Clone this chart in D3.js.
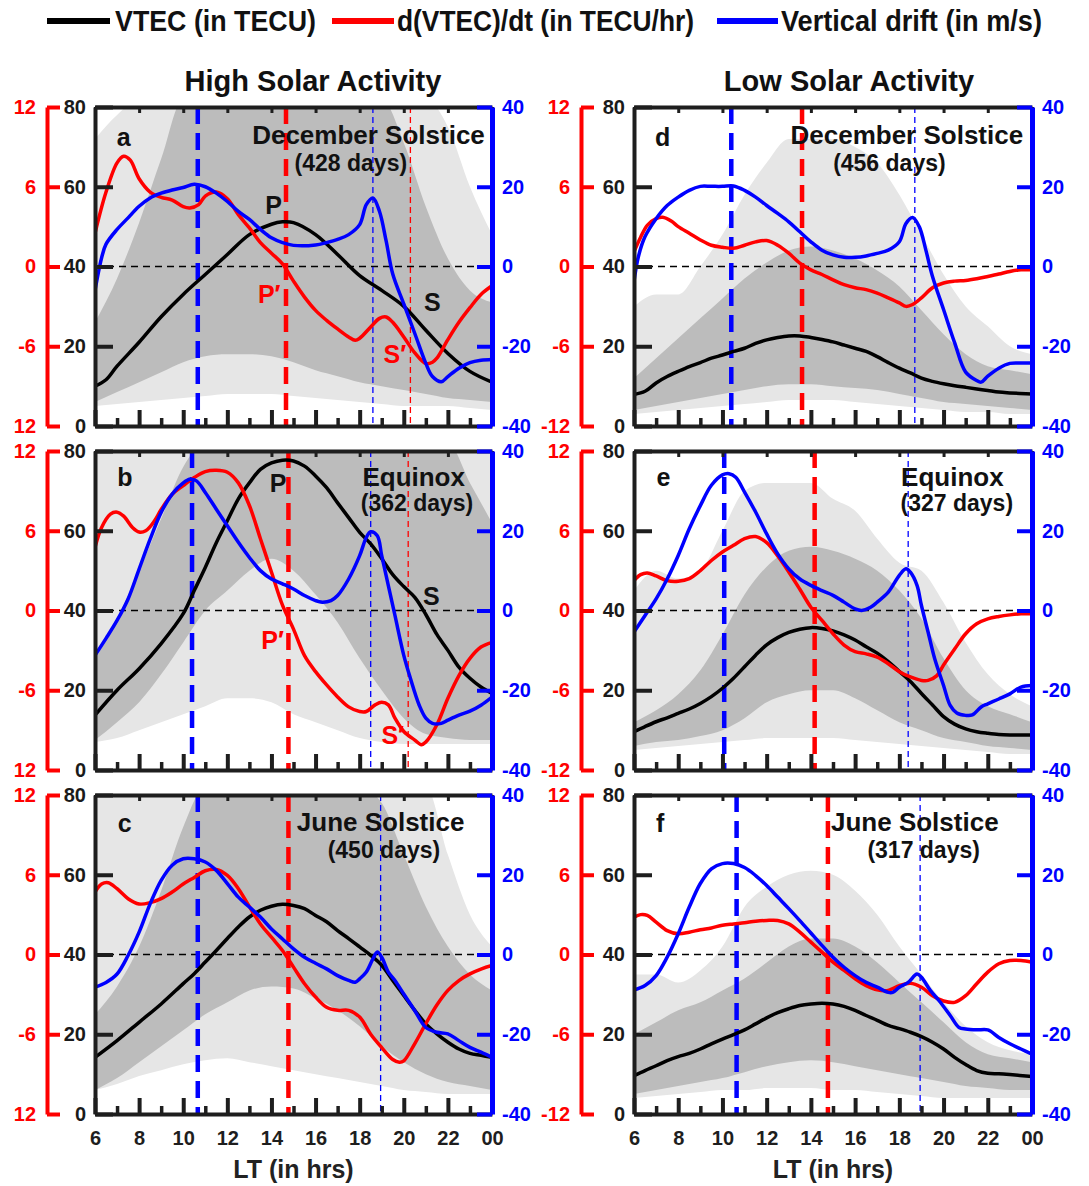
<!DOCTYPE html>
<html>
<head>
<meta charset="utf-8">
<script src="https://cdn.jsdelivr.net/npm/d3@7/dist/d3.min.js"></script>
<style>
html,body{margin:0;padding:0;background:#fff;}
</style>
</head>
<body>
<svg id="chart" width="1089" height="1186"></svg>
<script>
// ================= DATA =================
const hourTicks = [6, 8, 10, 12, 14, 16, 18, 20, 22, 24];
const hourTickLabels = ["6", "8", "10", "12", "14", "16", "18", "20", "22", "00"];
const minorHourTicks = [7, 9, 11, 13, 15, 17, 19, 21, 23];
const vtecTicks = [0, 20, 40, 60, 80];
const rateTicks = [-12, -6, 0, 6, 12];
const rateTickLabels = ["-12", "-6", "0", "6", "12"];
const driftTicks = [-40, -20, 0, 20, 40];
const driftTickLabels = ["-40", "-20", "0", "20", "40"];
const seriesNames = ["VTEC (in TECU)", "d(VTEC)/dt (in TECU/hr)", "Vertical drift (in m/s)"];
const columnTitles = ["High Solar Activity", "Low Solar Activity"];
const panelLetters = ["a", "b", "c", "d", "e", "f"];
const seasons = ["December Solstice", "Equinox", "June Solstice", "December Solstice", "Equinox", "June Solstice"];
const dayCounts = [428, 362, 450, 456, 327, 317];

// reference local times of the dashed markers
const driftPeakLT = [10.66, 10.4, 10.66, 10.4, 10.08, 10.64];
const vtecPeakLT = [14.66, 14.77, 14.77, 13.6, 14.17, 14.77];
const preReversalLT = [18.6, 18.5, 18.95, 18.7, 18.4, 18.94];
const secondaryLT = [20.3, 20.2, null, null, null, null];

// envelopes of the daily VTEC curves (grey), hourly from 6 to 24 LT
const grayHours = [6, 7, 8, 9, 10, 11, 12, 13, 14, 15, 16, 17, 18, 19, 20, 21, 22, 23, 24];
const sparseTopA = [72, 78, 82, 82, 82, 82, 82, 82, 82, 82, 82, 82, 82, 82, 82, 82, 75, 60, 48];
const denseTopA = [26, 37, 51, 67, 82, 82, 82, 82, 82, 82, 82, 82, 82, 82, 71, 55, 42, 34, 31];
const denseBotA = [6, 8.5, 11, 13.5, 16, 17.5, 18, 18, 17.5, 16, 14, 12.5, 11, 10, 9, 8, 7, 6.5, 6];
const sparseBotA = [5, 5.5, 6, 6.5, 7, 7.5, 8, 8, 8, 7.5, 7, 6.5, 6, 5.5, 5, 5, 5, 4.5, 4];

const sparseTopB = [82, 82, 82, 82, 82, 82, 82, 82, 82, 82, 82, 82, 82, 82, 82, 82, 82, 82, 82];
const denseTopB = [28, 38, 50, 63, 76, 82, 82, 82, 82, 82, 82, 82, 82, 82, 82, 82, 82, 72, 62];
const denseBotB = [7.5, 12, 17, 24, 32, 40, 45, 50, 53, 50, 44, 37, 28, 20, 13, 9, 8, 7.5, 7.5];
const sparseBotB = [7, 8, 10, 12, 14, 16, 18, 18, 17, 14, 12, 10, 8, 7, 6.5, 6.5, 6.5, 6.5, 6.5];

const sparseTopC = [82, 82, 82, 82, 82, 82, 82, 82, 82, 82, 82, 82, 82, 82, 82, 82, 65, 50, 42];
const denseTopC = [25, 32, 42, 56, 72, 82, 82, 82, 82, 82, 82, 82, 82, 78, 65, 52, 42, 35, 31];
const denseBotC = [6, 9, 13, 17, 21, 25, 28, 31, 32, 31.5, 29, 26, 22, 17, 13, 10, 8, 7, 6];
const sparseBotC = [6, 7.5, 9.5, 11, 12.5, 13.5, 14, 13, 12, 11, 10, 9, 8, 7, 6, 5.5, 5, 5, 5];

const sparseTopD = [30, 33, 33, 40, 48, 58, 66, 72, 72, 72, 70, 66, 58, 48, 38, 30, 25, 20, 18];
const denseTopD = [12, 17, 22, 27, 32, 37, 41, 44, 45, 44, 42, 39, 35, 29, 23, 18, 15, 14, 13];
const denseBotD = [4, 5, 6, 7, 8, 9, 10, 10.5, 10.5, 10, 9.5, 9, 8, 7, 6, 5.5, 5, 4.5, 4];
const sparseBotD = [3, 3.5, 4, 4.5, 5, 5.5, 6, 6.5, 6.5, 6.5, 6, 5.5, 5, 4.5, 4, 3.5, 3.5, 3, 3];

const sparseTopE = [45, 50, 48, 50, 60, 70, 72, 72, 72, 68, 65, 58, 52, 50, 42, 32, 24, 19, 16];
const denseTopE = [12, 15, 19, 25, 34, 44, 51, 55, 56, 55, 53, 50, 45, 38, 28, 20, 16, 14, 12];
const denseBotE = [6, 7, 7.5, 8.5, 10, 13, 17, 19, 20, 20, 18, 15, 12, 10, 8, 7, 6, 5.5, 5];
const sparseBotE = [5, 5.5, 6, 6.5, 7, 7.5, 8, 8, 8, 8, 7.5, 7, 6.5, 6, 5.5, 5, 4.5, 4, 4];

const sparseTopF = [35, 35, 33, 36, 42, 52, 57, 60, 61, 60, 56, 50, 42, 35, 28, 22, 18, 16, 15];
const denseTopF = [20, 23, 26, 28, 31, 34, 38, 42, 44, 44, 42, 38, 33, 28, 23, 18, 15, 14, 13];
const denseBotF = [5, 6, 7, 8, 9, 10.5, 12, 13, 13.5, 13, 12, 11, 10, 9, 8, 7, 6.5, 6, 6];
const sparseBotF = [4, 4.5, 5, 5.5, 6, 6, 6.5, 6.5, 6.5, 6, 6, 5.5, 5, 4.5, 4, 4, 4, 4, 4];

// mean VTEC (TECU), [LT, value]
const vtecA = [[6,10],[6.5,11.6],[7,15],[8,21],[9,27.4],[10,33],[11,38],[12,43],[13,48],[14,50.6],[14.5,51.2],[15,51],[16,48],[17,43],[18,37.7],[19,34],[20,30],[21,24],[22,18.2],[23,13.7],[24,11]];
const vtecB = [[6,13.75],[7,20],[8,25.4],[9,31.7],[10,39.2],[10.5,45],[11,50.8],[11.5,57],[12,62.5],[12.5,68],[13,72],[13.5,75.4],[14,77],[14.5,77.7],[15,77.5],[15.5,76.2],[16,73.75],[16.5,70.8],[17,67],[17.5,63.3],[18,59.6],[18.5,56.7],[19,53],[19.5,49],[20,46],[20.5,43.3],[21,39],[21.5,34],[22,30],[22.5,25.8],[23,23],[23.5,20.8],[24,19.2]];
const vtecC = [[6,14.2],[7,18.4],[8,23],[9,27.6],[10,32.7],[10.5,35.2],[11,38.1],[11.5,41],[12,44],[12.5,46.9],[13,49.4],[13.5,51.1],[14,52.1],[14.5,52.6],[15,52.3],[15.5,51.5],[16,49.8],[16.5,48.2],[17,46],[17.5,44],[18,41.9],[18.5,39.8],[19,37.3],[19.5,33.5],[20,29.7],[20.5,26],[21,22.6],[21.5,20.1],[22,18],[22.5,16.3],[23,15.2],[23.5,14.7],[24,14.2]];
const vtecD = [[6,7.9],[6.5,8.7],[7,10.8],[7.5,12.4],[8,13.7],[8.5,14.9],[9,15.9],[9.5,17],[10,17.8],[10.5,18.7],[11,19.5],[11.5,20.7],[12,21.6],[12.5,22.2],[13,22.6],[13.5,22.6],[14,22.2],[14.5,21.7],[15,21.1],[15.5,20.3],[16,19.5],[16.5,18.7],[17,17.4],[17.5,15.9],[18,14.5],[18.5,13.3],[19,12],[19.5,11.2],[20,10.6],[20.5,10.1],[21,9.7],[21.5,9.3],[22,8.9],[22.5,8.5],[23,8.3],[24,8]];
const vtecE = [[6,9.6],[6.5,10.9],[7,12.1],[7.5,13.1],[8,14.2],[8.5,15.3],[9,16.7],[9.5,18.4],[10,20.5],[10.5,23],[11,25.9],[11.5,28.8],[12,31.4],[12.5,33.2],[13,34.5],[13.5,35.3],[14,35.7],[14.5,35.5],[15,34.9],[15.5,33.9],[16,32.6],[16.5,30.9],[17,29.3],[17.5,27.2],[18,24.7],[18.5,22.2],[19,19.2],[19.5,16.3],[20,13.4],[20.5,11.5],[21,10.3],[21.5,9.6],[22,9.2],[22.5,8.9],[23,8.8],[24,8.8]];
const vtecF = [[6,9.6],[6.5,10.9],[7,12.1],[7.5,13.4],[8,14.4],[8.5,15.2],[9,16.3],[9.5,17.6],[10,18.8],[10.5,19.9],[11,21.1],[11.5,22.6],[12,24.1],[12.5,25.4],[13,26.4],[13.5,27.2],[14,27.6],[14.5,27.8],[15,27.6],[15.5,27],[16,26],[16.5,24.7],[17,23.5],[17.5,22.2],[18,21.4],[18.5,20.5],[19,19.4],[19.5,18],[20,16.3],[20.5,14.2],[21,12.4],[21.5,10.9],[22,10.2],[22.5,10.1],[23,9.9],[24,9.4]];

// d(VTEC)/dt (TECU/hr), [LT, value]
const rateA = [[6,2.5],[6.5,5.6],[7,7.8],[7.3,8.3],[7.6,8.0],[8,6.6],[8.5,5.6],[9,5.2],[9.5,5.0],[10,4.5],[10.3,4.4],[10.7,4.65],[11,5.3],[11.5,5.6],[12,5.1],[12.5,3.9],[13,2.9],[13.5,1.8],[14,1.0],[14.5,0.2],[15,-1.1],[15.5,-2.3],[16,-3.3],[16.5,-4.05],[17,-4.7],[17.5,-5.3],[17.8,-5.55],[18,-5.4],[18.5,-4.55],[18.9,-3.9],[19.2,-3.8],[19.5,-4.2],[20,-5.3],[20.5,-6.5],[21,-7.3],[21.3,-7.2],[21.5,-6.9],[22,-5.5],[22.5,-4.2],[23,-3.1],[23.5,-2.1],[24,-1.45]];
const rateB = [[6,4.75],[6.3,6.25],[6.7,7.25],[7,7.4],[7.3,7.1],[7.7,6.25],[8,5.9],[8.3,6],[8.7,6.75],[9,7.6],[9.5,8.75],[10,9.4],[10.5,10],[11,10.45],[11.5,10.55],[12,10.4],[12.5,9.6],[13,7.9],[13.5,5.4],[14,2.9],[14.5,0.4],[15,-1.4],[15.5,-3.4],[16,-4.6],[16.5,-5.6],[17,-6.5],[17.5,-7.25],[18,-7.6],[18.3,-7.6],[18.7,-7.1],[19,-6.9],[19.3,-7.1],[19.6,-8.1],[20,-9.1],[20.5,-9.75],[20.8,-10.1],[21,-9.9],[21.5,-8.6],[22,-6.6],[22.5,-4.9],[23,-3.6],[23.5,-2.75],[24,-2.4]];
const rateC = [[6,4.7],[6.3,5.3],[6.6,5.4],[7,4.95],[7.5,4.2],[8,3.8],[8.5,3.9],[9,4.2],[9.5,4.7],[10,5.3],[10.5,5.8],[11,6.3],[11.5,6.4],[12,5.95],[12.5,4.95],[13,3.6],[13.5,2.3],[14,1.3],[14.5,0.3],[15,-0.95],[15.5,-2.2],[16,-3.2],[16.5,-3.97],[17,-4.2],[17.5,-4.2],[18,-4.7],[18.5,-6],[19,-7],[19.5,-7.9],[19.8,-8.1],[20,-8],[20.5,-6.7],[21,-5.2],[21.5,-3.8],[22,-2.7],[22.5,-1.96],[23,-1.46],[23.5,-1.1],[24,-0.83]];
const rateD = [[6,1.1],[6.3,2.2],[6.6,3.1],[7,3.6],[7.3,3.7],[7.7,3.4],[8,3.0],[8.5,2.5],[9,2.0],[9.5,1.6],[10,1.45],[10.5,1.37],[11,1.6],[11.5,1.85],[12,1.95],[12.5,1.6],[13,1.0],[13.5,0.25],[14,-0.25],[14.5,-0.6],[15,-1.0],[15.5,-1.37],[16,-1.6],[16.5,-1.74],[17,-2.0],[17.5,-2.36],[18,-2.74],[18.3,-3.0],[18.6,-2.86],[19,-2.36],[19.5,-1.6],[20,-1.24],[20.5,-1.1],[21,-1.05],[21.5,-0.92],[22,-0.75],[22.5,-0.57],[23,-0.37],[23.5,-0.25],[24,-0.25]];
const rateE = [[6,2.25],[6.3,2.7],[6.6,2.83],[7,2.6],[7.5,2.25],[8,2.2],[8.5,2.4],[9,3.0],[9.5,3.76],[10,4.4],[10.5,4.9],[11,5.4],[11.5,5.56],[12,5.1],[12.5,4.1],[13,2.9],[13.5,1.6],[14,0.25],[14.5,-0.75],[15,-1.75],[15.5,-2.6],[16,-3.1],[16.5,-3.26],[17,-3.5],[17.5,-4.0],[18,-4.6],[18.5,-5.0],[19,-5.26],[19.3,-5.26],[19.7,-4.9],[20,-4.1],[20.5,-2.9],[21,-1.75],[21.5,-1.0],[22,-0.63],[22.5,-0.45],[23,-0.33],[23.5,-0.25],[24,-0.25]];
const rateF = [[6,2.8],[6.3,3.0],[6.6,2.94],[7,2.44],[7.5,1.8],[8,1.56],[8.5,1.68],[9,1.86],[9.5,2.0],[10,2.2],[10.5,2.3],[11,2.39],[11.5,2.5],[12,2.56],[12.5,2.56],[13,2.3],[13.5,1.68],[14,0.93],[14.5,0.18],[15,-0.58],[15.5,-1.2],[16,-1.83],[16.5,-2.34],[17,-2.66],[17.5,-2.7],[18,-2.34],[18.5,-2.16],[19,-2.46],[19.5,-3.1],[20,-3.5],[20.5,-3.6],[21,-3.1],[21.5,-2.2],[22,-1.33],[22.5,-0.7],[23,-0.45],[23.5,-0.45],[24,-0.58]];

// vertical drift (m/s), [LT, value]
const driftA = [[6,-6],[6.3,2.2],[6.5,5.6],[7,9.3],[7.5,12.2],[8,15.1],[8.5,17.2],[9,18.4],[9.5,19.2],[10,19.8],[10.5,20.6],[11,20],[11.5,18.4],[12,16.3],[12.5,13.8],[13,11.8],[13.5,9.3],[14,7.2],[14.5,6],[15,5.3],[16,5.4],[16.5,6],[17,6.8],[17.5,8],[18,10.5],[18.3,15.5],[18.6,17.2],[18.9,13.8],[19.2,6.4],[19.5,-1.9],[20,-9.4],[20.5,-16.8],[21,-24.3],[21.3,-27.6],[21.7,-28.9],[22,-27.6],[22.5,-25.5],[23,-24.1],[23.5,-23.5],[24,-23.3]];
const driftB = [[6,-11.25],[6.5,-7],[7,-2.5],[7.5,2.9],[8,10.4],[8.5,17.9],[9,24.6],[9.5,29.2],[10,32],[10.3,32.9],[10.6,32.5],[11,29.6],[11.5,25.4],[12,21.25],[12.5,17.1],[13,13.3],[13.5,10],[14,7.9],[14.5,6.7],[15,5.4],[15.5,3.75],[16,2.5],[16.3,2.1],[16.7,2.5],[17,3.75],[17.5,7.9],[18,13.75],[18.3,18.3],[18.5,19.75],[18.8,18.75],[19,13.75],[19.3,6.25],[19.6,-1.25],[20,-11.25],[20.3,-17],[20.7,-23.75],[21,-27],[21.3,-28.3],[21.7,-28.3],[22,-27.5],[22.5,-26.25],[23,-25.25],[23.5,-23.75],[24,-21.7]];
const driftC = [[6,-8.2],[6.5,-7],[7,-4.9],[7.5,-0.25],[8,5.6],[8.5,12.7],[9,18.6],[9.5,22.4],[10,24],[10.5,24],[11,23.2],[11.5,21.1],[12,17.8],[12.5,14.4],[13,11.9],[13.5,9.4],[14,6.4],[14.5,3.9],[15,1.4],[15.5,-0.7],[16,-2.2],[16.5,-3.6],[17,-5.3],[17.5,-6.5],[17.8,-6.95],[18,-6.1],[18.3,-4.4],[18.6,-1.1],[18.8,0.6],[19,-0.7],[19.3,-4.4],[19.6,-6.5],[20,-9.9],[20.5,-14.1],[21,-18.3],[21.5,-19.5],[22,-19.9],[22.5,-21.6],[23,-23.3],[23.5,-24.5],[24,-25.8]];
const driftD = [[6,-3.7],[6.2,2.5],[6.5,7.5],[7,12],[7.5,15.3],[8,17.4],[8.5,19.1],[9,20.1],[9.5,20.1],[10,20.1],[10.5,20.2],[11,19.1],[11.5,17.4],[12,15.3],[12.5,13.3],[13,11.2],[13.5,8.7],[14,6.2],[14.5,4.1],[15,2.9],[15.5,2.3],[16,2.3],[16.5,2.65],[17,3.3],[17.5,4.1],[18,6.2],[18.3,10.8],[18.6,12.3],[18.9,10],[19.2,4.1],[19.5,-2.5],[20,-10.8],[20.5,-19.1],[21,-26.5],[21.5,-28.6],[21.7,-29],[22,-27.5],[22.5,-25.5],[23,-24.3],[23.5,-24.2],[24,-24.2]];
const driftE = [[6,-5.4],[6.5,-1.25],[7,2.9],[7.5,7.9],[8,13.8],[8.5,20.5],[9,26.3],[9.5,31.4],[10,34],[10.3,34.3],[10.6,33.4],[11,29.7],[11.5,24.7],[12,19.2],[12.5,14.2],[13,10.45],[13.5,7.9],[14,6.3],[14.5,5.0],[15,3.8],[15.5,2.1],[16,0.4],[16.3,0],[16.7,0.8],[17,2.1],[17.5,4.6],[18,8.8],[18.3,10.45],[18.5,9.6],[18.8,6.3],[19,1.25],[19.3,-5.4],[19.6,-12.1],[20,-18.8],[20.3,-23.8],[20.6,-25.7],[21,-26.3],[21.3,-26.2],[21.7,-24.2],[22,-23.4],[22.5,-22.2],[23,-20.9],[23.5,-19.2],[24,-18.8]];
const driftF = [[6,-8.9],[6.5,-7.8],[7,-5.3],[7.5,-0.67],[8,5.2],[8.5,11.9],[9,17.8],[9.5,21.5],[10,22.8],[10.5,22.8],[11,21.8],[11.5,19.8],[12,17.3],[12.5,14.4],[13,11.5],[13.5,8.5],[14,5.4],[14.5,2.3],[15,-0.67],[15.5,-3.2],[16,-5.3],[16.5,-7.0],[17,-8.2],[17.5,-9.5],[17.7,-9.5],[18,-8.2],[18.4,-7.0],[18.8,-4.9],[19,-5.7],[19.4,-9.0],[19.8,-11.6],[20.3,-15.3],[20.7,-18.3],[21,-18.7],[21.5,-18.9],[22,-18.9],[22.5,-20.8],[23,-22.4],[23.5,-23.7],[24,-25]];

// ================= LAYOUT / STYLE =================
const W = 1089, H = 1186;
const colX0 = [95, 634], colX1 = [492, 1032];
const rowY0 = [107, 451, 795], rowH = 319;
const redAxisGap = [48, 53];
const RED = "#ff0000", BLUE = "#0000ff", FRAME = "#1e1e1e";
const FONT = "'Liberation Sans', Arial, Helvetica, sans-serif";

// annotation placement in data units [LT, VTEC]
const placement = [
  {letter:[7.3,72.5], season:[18.4,73], days:[17.6,66], P:[14.1,55.5], Pp:[13.9,33], S:[21.3,31], Sp:[19.6,18]},
  {letter:[7.35,73.5], season:[20.45,73.5], days:[20.6,67], P:[14.3,72], Pp:[14.05,32.5], S:[21.25,43.75], Sp:[19.5,8.75]},
  {letter:[7.35,73], season:[18.95,73.3], days:[19.1,66.2]},
  {letter:[7.3,72.5], season:[18.34,73], days:[17.55,66]},
  {letter:[7.33,73.6], season:[20.4,73.6], days:[20.6,66.9]},
  {letter:[7.18,73], season:[18.7,73.3], days:[19.1,66.2]}
];

const panels = [
  {vtec: vtecA, rate: rateA, drift: driftA, sTop: sparseTopA, dTop: denseTopA, dBot: denseBotA, sBot: sparseBotA},
  {vtec: vtecB, rate: rateB, drift: driftB, sTop: sparseTopB, dTop: denseTopB, dBot: denseBotB, sBot: sparseBotB},
  {vtec: vtecC, rate: rateC, drift: driftC, sTop: sparseTopC, dTop: denseTopC, dBot: denseBotC, sBot: sparseBotC},
  {vtec: vtecD, rate: rateD, drift: driftD, sTop: sparseTopD, dTop: denseTopD, dBot: denseBotD, sBot: sparseBotD},
  {vtec: vtecE, rate: rateE, drift: driftE, sTop: sparseTopE, dTop: denseTopE, dBot: denseBotE, sBot: sparseBotE},
  {vtec: vtecF, rate: rateF, drift: driftF, sTop: sparseTopF, dTop: denseTopF, dBot: denseBotF, sBot: sparseBotF}
];

const svg = d3.select("#chart");
const defs = svg.append("defs");
defs.append("clipPath").attr("id", "leftEdge").append("rect")
  .attr("x", 13).attr("y", 0).attr("width", W).attr("height", H);

// ---------- legend ----------
const legendItems = [
  {name: seriesNames[0], color: "#000", lx0: 47, lx1: 110, tx: 115, tw: 201},
  {name: seriesNames[1], color: RED, lx0: 332, lx1: 394, tx: 397, tw: 297},
  {name: seriesNames[2], color: BLUE, lx0: 717, lx1: 778, tx: 781, tw: 261}
];
const lg = svg.append("g");
legendItems.forEach(it => {
  lg.append("line").attr("x1", it.lx0).attr("x2", it.lx1).attr("y1", 21).attr("y2", 21)
    .attr("stroke", it.color).attr("stroke-width", 6);
  lg.append("text").attr("x", it.tx).attr("y", 31).text(it.name)
    .attr("font-family", FONT).attr("font-weight", "bold").attr("font-size", 29)
    .attr("fill", "#111").attr("textLength", it.tw).attr("lengthAdjust", "spacingAndGlyphs");
});

// ---------- column titles ----------
[313, 849].forEach((cx, k) => {
  svg.append("text").attr("x", cx).attr("y", 91).attr("text-anchor", "middle")
    .attr("font-family", FONT).attr("font-weight", "bold").attr("font-size", 29)
    .attr("fill", "#111").text(columnTitles[k]);
});

function styleAxis(g, color, tickWidth) {
  g.attr("font-family", FONT).attr("font-weight", "bold").attr("font-size", 20).attr("color", color);
  g.selectAll(".tick line").attr("stroke-width", tickWidth);
}

panels.forEach((P, i) => {
  const col = i < 3 ? 0 : 1, row = i % 3;
  const x0 = colX0[col], x1 = colX1[col], y0 = rowY0[row], y1 = y0 + rowH;
  const x = d3.scaleLinear().domain([6, 24]).range([x0, x1]);
  const yV = d3.scaleLinear().domain([0, 80]).range([y1, y0]);
  const yR = d3.scaleLinear().domain([-12, 12]).range([y1, y0]);
  const yD = d3.scaleLinear().domain([-40, 40]).range([y1, y0]);

  const cid = "clipP" + i;
  defs.append("clipPath").attr("id", cid).append("rect")
    .attr("x", x0).attr("y", y0).attr("width", x1 - x0).attr("height", y1 - y0);

  const g = svg.append("g");
  const inner = g.append("g").attr("clip-path", `url(#${cid})`);

  // grey envelopes of the daily curves
  const band = (lo, hi) => d3.area()
    .x((d, k) => x(grayHours[k]))
    .y0((d, k) => yV(lo[k]))
    .y1((d, k) => yV(hi[k]))
    .curve(d3.curveMonotoneX)(grayHours);
  inner.append("path").attr("d", band(P.sBot, P.sTop)).attr("fill", "#e6e6e6");
  inner.append("path").attr("d", band(P.dBot, P.dTop)).attr("fill", "#bcbcbc");

  // zero line
  inner.append("line").attr("x1", x0).attr("x2", x1).attr("y1", yR(0)).attr("y2", yR(0))
    .attr("stroke", "#000").attr("stroke-width", 1.6).attr("stroke-dasharray", "7,5");

  // dashed markers
  const vline = (lt, color, w, dash) => inner.append("line")
    .attr("x1", x(lt)).attr("x2", x(lt)).attr("y1", y0).attr("y2", y1)
    .attr("stroke", color).attr("stroke-width", w).attr("stroke-dasharray", dash);
  vline(driftPeakLT[i], BLUE, 4.5, "17,9");
  vline(vtecPeakLT[i], RED, 4.5, "17,9");
  vline(preReversalLT[i], BLUE, 1.3, "6,4");
  if (secondaryLT[i] !== null) vline(secondaryLT[i], RED, 1.3, "6,4");

  // curves
  const line = (yS) => d3.line().x(d => x(d[0])).y(d => yS(d[1])).curve(d3.curveCatmullRom.alpha(0.5));
  inner.append("path").attr("d", line(yV)(P.vtec)).attr("fill", "none").attr("stroke", "#000").attr("stroke-width", 3.5);
  inner.append("path").attr("d", line(yR)(P.rate)).attr("fill", "none").attr("stroke", RED).attr("stroke-width", 3.5);
  inner.append("path").attr("d", line(yD)(P.drift)).attr("fill", "none").attr("stroke", BLUE).attr("stroke-width", 3.5);

  // annotations
  const pl = placement[i];
  const txt = (pos, s, size, color) => g.append("text")
    .attr("x", x(pos[0])).attr("y", yV(pos[1])).attr("text-anchor", "middle")
    .attr("dominant-baseline", "central").attr("font-family", FONT).attr("font-weight", "bold")
    .attr("font-size", size).attr("fill", color).text(s);
  txt(pl.letter, panelLetters[i], 25, "#111");
  txt(pl.season, seasons[i], 26, "#111");
  txt(pl.days, "(" + dayCounts[i] + " days)", 23, "#111");
  if (pl.P) {
    txt(pl.P, "P", 25, "#111");
    txt(pl.Pp, "P\u2032", 25, RED);
    txt(pl.S, "S", 25, "#111");
    txt(pl.Sp, "S\u2032", 25, RED);
  }

  // top frame with ticks
  const top = g.append("g").attr("transform", `translate(0,${y0})`)
    .call(d3.axisTop(x).tickValues(hourTicks).tickSizeInner(-6).tickSizeOuter(0).tickFormat(""));
  styleAxis(top, FRAME, 3);
  top.select(".domain").attr("stroke-width", 4);

  // bottom frame: minor and major ticks
  const bottomMinor = g.append("g").attr("transform", `translate(0,${y1})`)
    .call(d3.axisBottom(x).tickValues(minorHourTicks).tickSizeInner(-8).tickSizeOuter(0).tickFormat(""));
  styleAxis(bottomMinor, FRAME, 3.5);
  const bottom = g.append("g").attr("transform", `translate(0,${y1})`)
    .call(d3.axisBottom(x).tickValues(hourTicks).tickSizeInner(-16).tickSizeOuter(0).tickPadding(17)
      .tickFormat((d, k) => row === 2 ? hourTickLabels[k] : ""));
  styleAxis(bottom, FRAME, 4);
  bottom.select(".domain").attr("stroke-width", 4);

  // left black VTEC axis
  const left = g.append("g").attr("transform", `translate(${x0},0)`)
    .call(d3.axisLeft(yV).tickValues(vtecTicks).tickSizeInner(-18).tickSizeOuter(0).tickPadding(9)
      .tickFormat(d => String(d)));
  styleAxis(left, FRAME, 4);
  left.select(".domain").attr("stroke-width", 4);
  left.selectAll("text").attr("fill", "#1a1a1a");

  // red rate axis
  const redWrap = g.append("g");
  if (col === 0) redWrap.attr("clip-path", "url(#leftEdge)");
  const red = redWrap.append("g").attr("transform", `translate(${x0 - redAxisGap[col]},0)`)
    .call(d3.axisLeft(yR).tickValues(rateTicks).tickSizeInner(-13).tickSizeOuter(0).tickPadding(11)
      .tickFormat((d, k) => rateTickLabels[k]));
  styleAxis(red, RED, 4);
  red.select(".domain").attr("stroke-width", 4);

  // blue drift axis
  const blue = g.append("g").attr("transform", `translate(${x1},0)`)
    .call(d3.axisRight(yD).tickValues(driftTicks).tickSizeInner(-15).tickSizeOuter(0).tickPadding(10)
      .tickFormat((d, k) => driftTickLabels[k]));
  styleAxis(blue, BLUE, 4);
  blue.select(".domain").attr("stroke-width", 5);

  if (row === 2) {
    g.append("text").attr("x", (x0 + x1) / 2).attr("y", 1178).attr("text-anchor", "middle")
      .attr("font-family", FONT).attr("font-weight", "bold").attr("font-size", 25)
      .attr("fill", "#222").text("LT (in hrs)");
  }
});
</script>
</body>
</html>
